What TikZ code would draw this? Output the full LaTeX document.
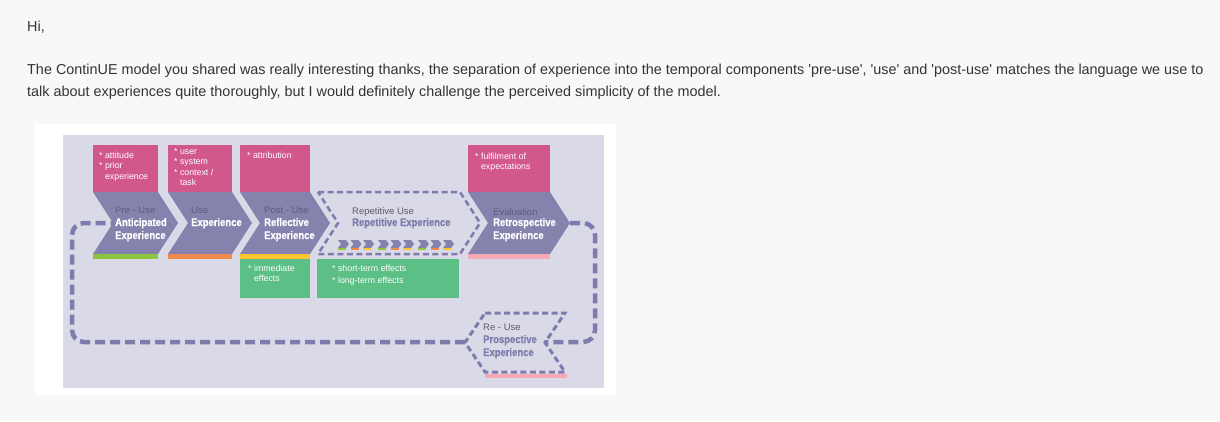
\documentclass[tikz,border=0pt]{standalone}
\usepackage{fontspec}
\setmainfont{Liberation Sans}
\newfontfamily\condfont[FakeStretch=0.86,FakeBold=0.6]{Liberation Sans}
\usetikzlibrary{positioning,calc}
\definecolor{pagebg}{HTML}{F8F8F8}
\definecolor{mailtext}{HTML}{333333}
\definecolor{lavender}{HTML}{D9D9E7}
\definecolor{notepink}{HTML}{D2578A}
\definecolor{chevpurple}{HTML}{8583AE}
\definecolor{dashpurple}{HTML}{7F7CAD}
\definecolor{effgreen}{HTML}{5CBF86}
\definecolor{bargreen}{HTML}{8CC63E}
\definecolor{barorange}{HTML}{F08A4B}
\definecolor{baryellow}{HTML}{FBC531}
\definecolor{barpink}{HTML}{F5AAB5}
\definecolor{stagegray}{HTML}{5C5A80}
\definecolor{labelgray}{HTML}{5A5A6A}
\tikzset{
  mail/.style={anchor=base west, inner sep=0, text=mailtext, font=\fontsize{14.4}{17}\selectfont},
  notebox/.style={draw=none, inner sep=0, anchor=north west},
  notetext/.style={anchor=base west, inner sep=0, text=white, align=left,
    font=\fontsize{8.8}{10.5}\selectfont},
  chev/.style={fill=chevpurple},
  stage/.style={anchor=base west, inner sep=0, text=stagegray, font=\fontsize{9.5}{11}\selectfont},
  title/.style={anchor=base west, inner sep=0, text=white, align=left,
    font=\condfont\bfseries\fontsize{11}{13}\selectfont},
  loopline/.style={draw=dashpurple, line width=4.5pt, dash pattern=on 10pt off 5pt,
    rounded corners=12pt},
  ghost/.style={draw=dashpurple, line width=2.5pt, dash pattern=on 6pt off 3.5pt}
}
\newcommand{\chevron}[3]{(#1,#2) -- ++(#3,0) -- ++(20,31) -- ++(-20,31) -- ++(-#3,0) -- ++(20,-31) -- cycle}
\newcommand{\sq}{\textquotesingle}
\begin{document}
\begin{tikzpicture}[x=1pt, y=-1pt]
  \fill[pagebg] (0,0) rectangle (1220,421);
  \useasboundingbox (0,0) rectangle (1220,421);
  % mail text
  \node[mail] (hi) at (27,31) {Hi,};
  \node[mail] (line-1) at (27,74) {The ContinUE model you shared was really interesting thanks, the separation of experience into the temporal components \sq pre-use\sq, \sq use\sq\ and \sq post-use\sq\ matches the language we use to};
  \node[mail] (line-2) at (27,96) {talk about experiences quite thoroughly, but I would definitely challenge the perceived simplicity of the model.};
  % picture frame
  \fill[white] (34,124) rectangle (616,395);
  \fill[lavender] (63,135) rectangle (604,388);
  % pink notes (base = last line)
  \node[notebox, fill=notepink, minimum width=65pt, minimum height=47pt] (pre-note) at (93,145) {};
  \node[notebox, fill=notepink, minimum width=64pt, minimum height=47pt] (use-note) at (168,145) {};
  \node[notebox, fill=notepink, minimum width=70pt, minimum height=47pt] (post-note) at (240,145) {};
  \node[notebox, fill=notepink, minimum width=82pt, minimum height=47pt] (eval-note) at (468,145) {};
  \node[notetext] at (99,179) {* attitude\\* prior\\\hphantom{* }experience};
  \node[notetext] at (174,185.5) {* user\\* system\\* context /\\\hphantom{* }task};
  \node[notetext] at (247,158) {* attribution};
  \node[notetext] at (475,169.5) {* fulfilment of\\\hphantom{* }expectations};
  % stages
  \fill[chev] \chevron{93}{192}{65};
  \fill[chev] \chevron{168}{192}{64};
  \fill[chev] \chevron{240}{192}{70};
  \fill[chev] \chevron{468}{192}{82};
  \draw[ghost] \chevron{318}{192}{142};
  \coordinate (pre-notch) at (113,223);
  \coordinate (eval-tip) at (570,223);
  \fill[bargreen] (93,254) rectangle (158,259);
  \fill[barorange] (168,254) rectangle (232,259);
  \fill[baryellow] (240,254) rectangle (310,259);
  \fill[barpink] (468,254) rectangle (550,259);
  % repeated small stages
  \foreach \g in {0,1,2}
    \foreach \k/\c in {0/bargreen,1/barorange,2/baryellow} {
      \pgfmathsetmacro{\xs}{338+40*\g+12.5*\k}
      \fill[chev] (\xs,240) -- ++(8,0) -- ++(3,4) -- ++(-3,4) -- ++(-8,0) -- ++(3,-4) -- cycle;
      \fill[\c] (\xs,248) rectangle ++(8,2);
    }
  \node[stage] (pre-label) at (115,213) {Pre - Use};
  \node[title] (pre-title) at (115,239) {Anticipated\\Experience};
  \node[stage] (use-label) at (191,213) {Use};
  \node[title] (use-title) at (191,226) {Experience};
  \node[stage] (post-label) at (264,213) {Post - Use};
  \node[title] (post-title) at (264,239) {Reflective\\Experience};
  \node[stage, text=labelgray] (rep-label) at (352,214.5) {Repetitive Use};
  \node[title, text=dashpurple] (rep-title) at (352,226) {Repetitive Experience};
  \node[stage] (eval-label) at (493,215) {Evaluation};
  \node[title] (eval-title) at (493,239) {Retrospective\\Experience};
  % effects
  \node[notebox, fill=effgreen, minimum width=70pt, minimum height=39pt] (post-eff) at (240,259) {};
  \node[notebox, fill=effgreen, minimum width=142pt, minimum height=39pt] (rep-eff) at (317,259) {};
  \node[notetext] at (248,281.5) {* immediate\\\hphantom{* }effects};
  \node[notetext] at (332,283) {* short-term effects\\[1.5pt]* long-term effects};
  % re-use
  \draw[ghost, line width=3pt] (485,313) -- (565,313) -- (545,342.5) -- (565,372) -- (485,372) -- (465,342.5) -- cycle;
  \fill[barpink] (485,374) rectangle (567,378);
  \coordinate (reuse-notch) at (545,342);
  \coordinate (reuse-tip) at (465,342);
  \node[stage, text=labelgray] (reuse-label) at (483,330) {Re - Use};
  \node[title, text=dashpurple] (reuse-title) at (483,356) {Prospective\\Experience};
  % loop back
  \draw[loopline] (eval-tip) -- (595,223) -- (595,342) -- (reuse-notch);
  \draw[loopline] (reuse-tip) -- (72,342) -- (72,223) -- (pre-notch);
\end{tikzpicture}
\end{document}
